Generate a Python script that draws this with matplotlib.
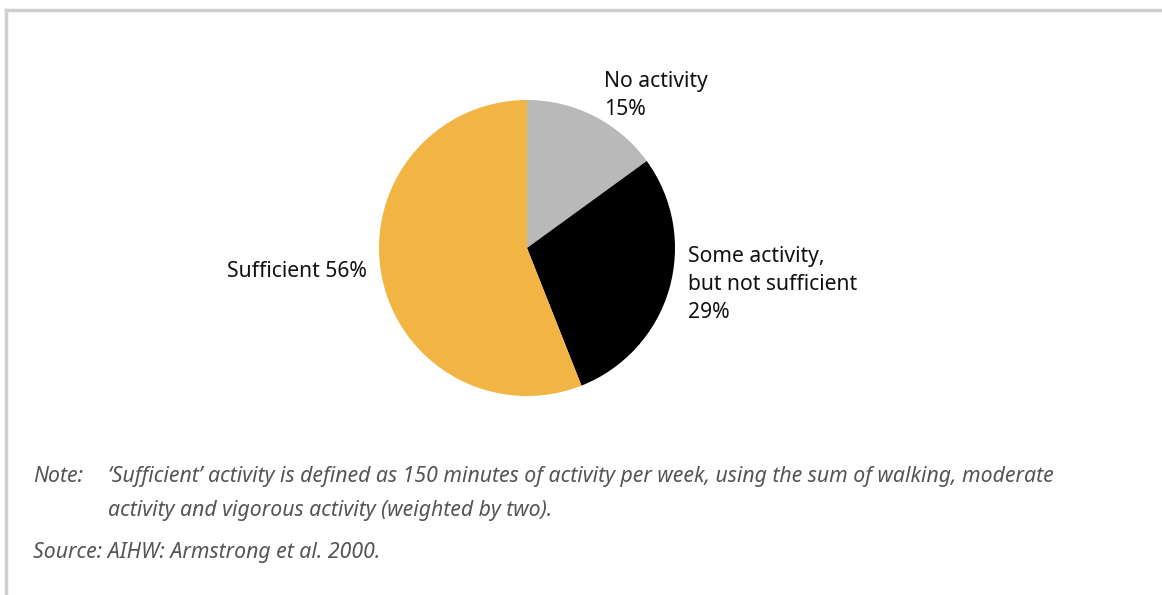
import matplotlib.pyplot as plt
from matplotlib.lines import Line2D

plt.rcParams['font.family'] = ['Noto Sans', 'DejaVu Sans']

# Physical activity levels, share of adults
categories = ['No activity', 'Some activity,\nbut not sufficient', 'Sufficient']
shares = [15, 29, 56]
colors = ['#b9b9b9', '#000000', '#f2b544']

W, H = 1162, 595
fig = plt.figure(figsize=(W / 100, H / 100), dpi=100)


def put(x, y, s, **kw):
    # place text by pixel position measured from the top-left corner
    fig.text(x / W, 1 - y / H, s, va='baseline', **kw)


# Frame lines along the top and left edge
fig.add_artist(Line2D([6 / W, 1], [1 - 10 / H, 1 - 10 / H], color='#cfcfcf', lw=2.5))
fig.add_artist(Line2D([6 / W, 6 / W], [0, 1 - 10 / H], color='#cfcfcf', lw=2.5))

# Pie: centre (527, 248) px, radius 148 px
cx, cy, r = 527, 248, 148
ax = fig.add_axes([(cx - r) / W, (H - cy - r) / H, 2 * r / W, 2 * r / H])
ax.pie(shares, colors=colors, startangle=90, counterclock=False,
       wedgeprops=dict(linewidth=0))
ax.set_xlim(-1, 1)
ax.set_ylim(-1, 1)
ax.set_aspect('auto')
ax.axis('off')

# Slice labels, one line at a time (28 px pitch)
lab = dict(fontsize=15.2, color='#111111')
for i, line in enumerate(f'{categories[0]}\n{shares[0]}%'.split('\n')):
    put(604, 87 + 28 * i, line, ha='left', **lab)
for i, line in enumerate(f'{categories[1]}\n{shares[1]}%'.split('\n')):
    put(688, 262 + 28 * i, line, ha='left', **lab)
put(367, 277, f'{categories[2]} {shares[2]}%', ha='right', **lab)

# Footnotes
note = dict(fontsize=15.3, color='#555555', style='italic', ha='left')
put(33, 482, 'Note:', **note)
put(108, 482, "\u2018Sufficient\u2019 activity is defined as 150 minutes of activity per week, "
              "using the sum of walking, moderate", **note)
put(108, 516, 'activity and vigorous activity (weighted by two).', **note)
put(33, 558, 'Source: AIHW: Armstrong et al. 2000.', **note)

fig.savefig('out.png', dpi=100)
